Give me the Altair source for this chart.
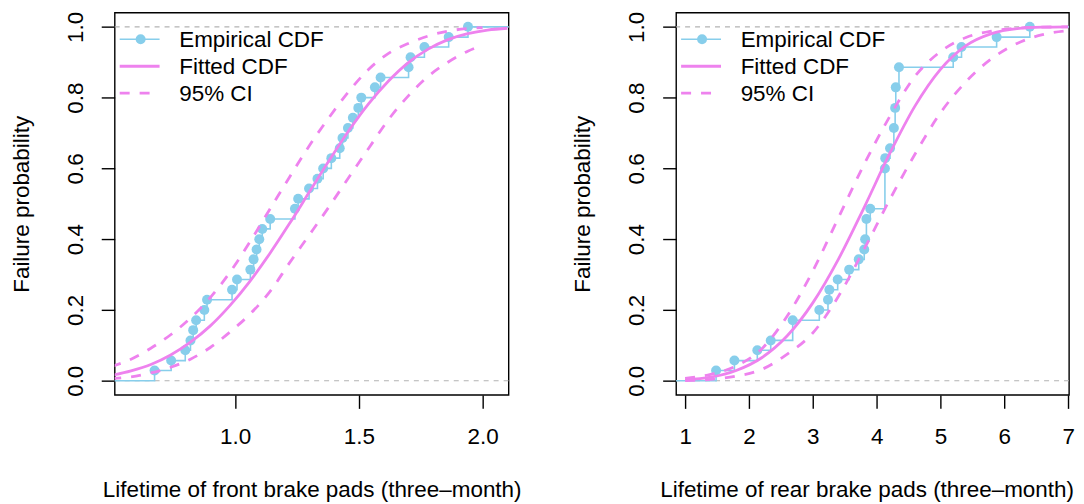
import altair as alt
import pandas as pd

# ---------------- data ----------------
front_time = [0.675, 0.742, 0.799, 0.820, 0.831, 0.843, 0.876, 0.887, 0.988, 1.008,
              1.062, 1.075, 1.087, 1.098, 1.110, 1.142, 1.242, 1.255, 1.299, 1.333,
              1.356, 1.389, 1.423, 1.434, 1.456, 1.476, 1.498, 1.510, 1.565, 1.588,
              1.701, 1.709, 1.765, 1.863, 1.941]
front_prob = [0.029, 0.057, 0.086, 0.114, 0.143, 0.171, 0.200, 0.229, 0.257, 0.286,
              0.314, 0.343, 0.371, 0.400, 0.429, 0.457, 0.486, 0.514, 0.543, 0.571,
              0.600, 0.629, 0.657, 0.686, 0.714, 0.743, 0.771, 0.800, 0.829, 0.857,
              0.886, 0.914, 0.943, 0.971, 1.000]

rear_time = [1.485, 1.772, 2.131, 2.341, 2.685, 3.102, 3.238, 3.260, 3.390, 3.570,
             3.720, 3.806, 3.820, 3.840, 3.900, 4.130, 4.135, 4.210, 4.270, 4.290,
             4.300, 4.350, 5.200, 5.330, 5.880, 6.400]
rear_prob = [0.029, 0.057, 0.086, 0.114, 0.171, 0.200, 0.229, 0.257, 0.286, 0.314,
             0.343, 0.371, 0.400, 0.457, 0.486, 0.600, 0.629, 0.657, 0.714, 0.771,
             0.829, 0.886, 0.914, 0.943, 0.971, 1.000]

front_grid = [0.50, 0.58, 0.66, 0.74, 0.82, 0.90, 0.98, 1.06, 1.14, 1.22, 1.30,
              1.38, 1.46, 1.54, 1.62, 1.70, 1.78, 1.86, 1.94, 2.02, 2.10]
front_fit = [0.015, 0.028, 0.046, 0.073, 0.109, 0.155, 0.213, 0.281, 0.359, 0.444,
             0.533, 0.622, 0.707, 0.783, 0.847, 0.899, 0.937, 0.964, 0.981, 0.991, 0.996]
front_ci_grid = [0.50, 0.58, 0.66, 0.74, 0.82, 0.90, 0.98, 1.06, 1.14, 1.22, 1.30,
                 1.38, 1.46, 1.54, 1.62, 1.70, 1.78, 1.86, 1.94, 2.00]
front_upper = [0.040, 0.061, 0.092, 0.130, 0.177, 0.235, 0.307, 0.392, 0.484, 0.575,
               0.664, 0.744, 0.818, 0.880, 0.925, 0.953, 0.974, 0.988, 0.995, 0.998]
front_lower = [0.006, 0.011, 0.022, 0.038, 0.061, 0.094, 0.138, 0.188, 0.251, 0.333,
               0.412, 0.492, 0.575, 0.657, 0.738, 0.805, 0.860, 0.900, 0.931, 0.948]

rear_grid = [1.0, 1.4, 1.8, 2.2, 2.6, 3.0, 3.4, 3.8, 4.2, 4.6, 5.0, 5.4, 5.8,
             6.2, 6.6, 7.0]
rear_fit = [0.0025, 0.010, 0.029, 0.065, 0.127, 0.220, 0.343, 0.488, 0.640, 0.776,
            0.880, 0.947, 0.981, 0.995, 0.999, 1.000]
rear_upper = [0.007, 0.018, 0.042, 0.090, 0.183, 0.310, 0.460, 0.610, 0.745, 0.860,
              0.930, 0.970, 0.988, 0.996, 0.999, 1.000]
rear_lower = [0.0005, 0.004, 0.013, 0.032, 0.075, 0.135, 0.238, 0.370, 0.510, 0.640,
              0.757, 0.845, 0.910, 0.953, 0.978, 0.989]

y_ticks = [0.0, 0.2, 0.4, 0.6, 0.8, 1.0]
front_ticks = [1.0, 1.5, 2.0]
rear_ticks = [1, 2, 3, 4, 5, 6, 7]
legend_labels = ["Empirical CDF", "Fitted CDF", "95% CI"]

# ---------------- style ----------------
FONT = "Liberation Sans"
FS = 22.5
LINE = 27.0
TICK = 13.5
SKY = "#87CEEB"
VIOLET = "#EE82EE"
GREY = "#B3B3B3"
H = 383.3


def panel(times, probs, grid, fit, ci_grid, upper, lower, xdomain, xticks, xfmt,
          xtitle, W, title_shift):
    xaxis = alt.Axis(values=xticks, format=xfmt, title=xtitle, grid=False, domain=False,
                     tickSize=TICK, tickColor="black", tickWidth=1.4,
                     labelFont=FONT, labelFontSize=FS, labelColor="black",
                     labelBaseline="alphabetic", labelPadding=1.8 * LINE - TICK,
                     labelFlush=False, labelOverlap=False,
                     titleFont=FONT, titleFontSize=FS, titleFontWeight="normal",
                     titleColor="black", titleBaseline="alphabetic",
                     titleX=W / 2 + title_shift, titleY=102.0, titleAlign="center")
    yaxis = alt.Axis(values=y_ticks, format=".1f", title="Failure probability",
                     grid=False, domain=False, tickSize=TICK, tickColor="black",
                     tickWidth=1.4, labelFont=FONT, labelFontSize=FS,
                     labelColor="black", labelAngle=270, labelAlign="center",
                     labelBaseline="alphabetic", labelPadding=1.2 * LINE - TICK,
                     labelFlush=False, labelOverlap=False,
                     titleFont=FONT, titleFontSize=FS, titleFontWeight="normal",
                     titleColor="black", titleAngle=270, titleBaseline="alphabetic",
                     titleAlign="center", titleX=-3.2 * LINE, titleY=H / 2)
    xs = alt.Scale(domain=xdomain, nice=False, zero=False)
    ys = alt.Scale(domain=[-0.04, 1.04], nice=False, zero=False)

    def X():
        return alt.X("t:Q", scale=xs, axis=xaxis)

    def Y():
        return alt.Y("p:Q", scale=ys, axis=yaxis)

    pts = pd.DataFrame({"t": times, "p": probs})
    step = pd.DataFrame({"t": [xdomain[0] - 1.0] + times + [xdomain[1] + 1.0],
                         "p": [0.0] + probs + [probs[-1]]})
    fitdf = pd.DataFrame({"t": grid, "p": fit})
    ci = pd.concat([
        pd.DataFrame({"t": ci_grid, "p": upper, "s": "upper"}),
        pd.DataFrame({"t": ci_grid, "p": lower, "s": "lower"}),
    ])
    hl = pd.DataFrame({"p": [0.0, 1.0]})

    hlines = alt.Chart(hl).mark_rule(color=GREY, strokeWidth=1.1,
                                     strokeDash=[5, 5]).encode(y=Y())
    stepl = alt.Chart(step).mark_line(color=SKY, strokeWidth=1.6,
                                      interpolate="step-after", clip=True).encode(
        x=X(), y=Y())
    dots = alt.Chart(pts).mark_circle(color=SKY, opacity=1, size=100).encode(x=X(), y=Y())
    fitl = alt.Chart(fitdf).mark_line(color=VIOLET, strokeWidth=2.8,
                                      interpolate="monotone", clip=True).encode(
        x=X(), y=Y())
    cil = alt.Chart(ci).mark_line(color=VIOLET, strokeWidth=2.8, strokeDash=[10, 10],
                                  interpolate="monotone", clip=True).encode(
        x=X(), y=Y(), detail="s:N")

    # legend (top-left, inside plot, no box)
    rows = [26.7, 53.7, 80.7]
    lx0, lx1, lpt, ltx = 5.0, 45.0, 26.0, 64.7
    leg = []
    for lbl, ry in zip(legend_labels, rows):
        leg.append(alt.Chart(pd.DataFrame({"label": [lbl]})).mark_text(
            align="left", baseline="middle", font=FONT, fontSize=FS, color="black").encode(
            x=alt.value(ltx), y=alt.value(ry + 0.5), text="label:N"))
    one = pd.DataFrame({"label": [legend_labels[0]]})
    leg.append(alt.Chart(one).mark_rule(color=SKY, strokeWidth=1.6).encode(
        x=alt.value(lx0), x2=alt.value(lx1), y=alt.value(rows[0])))
    leg.append(alt.Chart(one).mark_circle(color=SKY, opacity=1, size=100).encode(
        x=alt.value(lpt), y=alt.value(rows[0])))
    leg.append(alt.Chart(one).mark_rule(color=VIOLET, strokeWidth=2.8).encode(
        x=alt.value(lx0), x2=alt.value(lx1), y=alt.value(rows[1])))
    leg.append(alt.Chart(one).mark_rule(color=VIOLET, strokeWidth=2.8,
                                        strokeDash=[10, 10]).encode(
        x=alt.value(lx0), x2=alt.value(lx1), y=alt.value(rows[2])))

    return alt.layer(hlines, stepl, dots, fitl, cil, *leg).properties(width=W, height=H)


left = panel(front_time, front_prob, front_grid, front_fit, front_ci_grid, front_upper,
             front_lower, [0.514, 2.105], front_ticks, ".1f",
             "Lifetime of front brake pads (three\u2013month)", 395, 0)
right = panel(rear_time, rear_prob, rear_grid, rear_fit, rear_grid, rear_upper,
              rear_lower, [0.859, 7.014], rear_ticks, "d",
              "Lifetime of rear brake pads (three\u2013month)", 394, -6)

chart = alt.hconcat(left, right, spacing=168, bounds="flush").properties(
    padding={"left": 1, "top": 1, "right": 0, "bottom": 0},
    background="white",
).configure_view(stroke="black", strokeWidth=1.4)

chart.save("out.html", embed_options={"renderer": "svg", "actions": False})
